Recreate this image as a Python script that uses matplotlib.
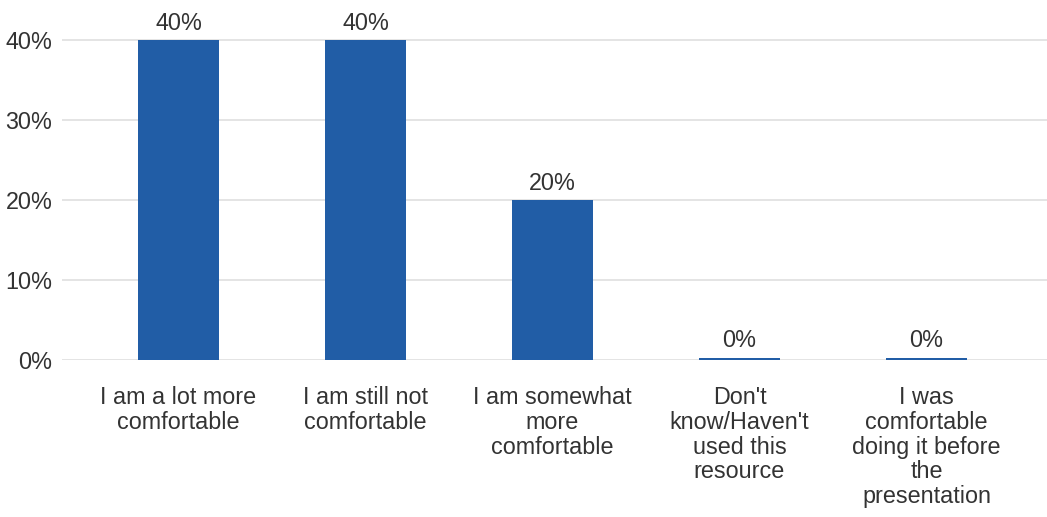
import matplotlib
matplotlib.use("Agg")
import matplotlib.pyplot as plt
import numpy as np

categories = [
    "I am a lot more\ncomfortable",
    "I am still not\ncomfortable",
    "I am somewhat\nmore\ncomfortable",
    "Don't\nknow/Haven't\nused this\nresource",
    "I was\ncomfortable\ndoing it before\nthe\npresentation",
]
values = [40, 40, 20, 0, 0]
yticks = [0, 10, 20, 30, 40]

plt.rcParams['font.family'] = ['Liberation Sans', 'DejaVu Sans']
W, H = 1047, 517
fig = plt.figure(figsize=(W / 100, H / 100), dpi=100)
ax = fig.add_axes([62 / W, (H - 360) / H, (1047 - 62) / W, 360 / H])

x = np.arange(len(categories))
color = "#215da6"
shown = np.maximum(np.array(values, dtype=float), 0.28)
ax.bar(x, shown, width=0.433, color=color, zorder=3, clip_on=False)

FS = 16.8
for xi, v, s in zip(x, values, shown):
    ax.annotate(f"{v}%", (xi, s), xytext=(0, 7.5), textcoords="offset points",
                ha="center", va="baseline", fontsize=FS, color="#333333")

ax.set_xlim((62 - 178.5) / 187, (1047 - 178.5) / 187)
ax.set_ylim(0, 45)
ax.set_yticks(yticks)
ax.set_yticklabels([f"{t}%" for t in yticks])
ax.set_xticks(x)
ax.set_xticklabels(categories, linespacing=1.09)
ax.tick_params(axis="both", length=0, labelsize=FS, labelcolor="#333333")
ax.tick_params(axis="x", pad=19)
ax.tick_params(axis="y", pad=7)
ax.grid(axis="y", color="#e2e2e2", linewidth=1.3, zorder=0)
ax.set_axisbelow(True)
for s in ax.spines.values():
    s.set_visible(False)

fig.savefig("out.png", dpi=100, facecolor="white")
